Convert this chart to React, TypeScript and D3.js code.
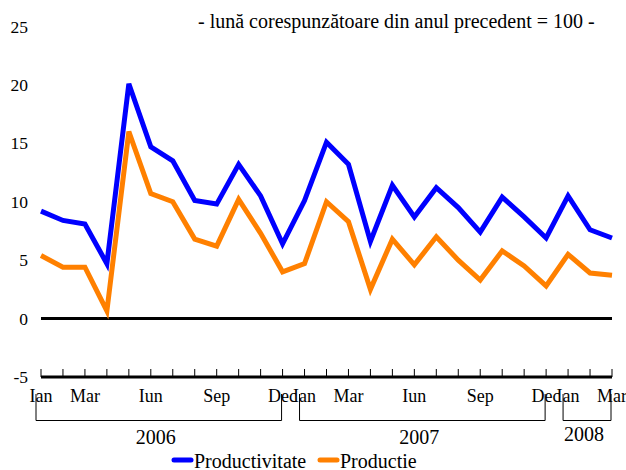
import React from "react";
import * as d3 from "d3";

const months = ["Ian", "Feb", "Mar", "Apr", "Mai", "Iun", "Iul", "Aug", "Sep", "Oct", "Noi", "Dec"];
const years = ["2006", "2007", "2008"];
const monthsPerYear = [12, 12, 3];
const labelledMonths = ["Ian", "Mar", "Iun", "Sep", "Dec"];

const productivitate = [
  9.2, 8.4, 8.1, 4.7, 20.1, 14.7, 13.5, 10.1, 9.8, 13.2, 10.5, 6.4,
  10.1, 15.1, 13.2, 6.6, 11.4, 8.7, 11.2, 9.5, 7.4, 10.4, 8.7, 6.9,
  10.5, 7.6, 6.9,
];
const productie = [
  5.4, 4.4, 4.4, 0.65, 16.0, 10.7, 10.0, 6.8, 6.2, 10.2, 7.3, 4.0,
  4.7, 10.0, 8.3, 2.5, 6.8, 4.6, 7.0, 5.0, 3.3, 5.8, 4.5, 2.8,
  5.5, 3.9, 3.7,
];
const yTicks = [25, 20, 15, 10, 5, 0, -5];

const series = [
  { name: "Productivitate", values: productivitate, color: "#0000ff" },
  { name: "Productie", values: productie, color: "#ff8000" },
];

const App = () => {
  const periods = years.flatMap((y, yi) =>
    d3.range(monthsPerYear[yi]).map(m => ({ year: y, month: months[m] }))
  );
  const x = d3.scaleLinear().domain([0, periods.length - 1]).range([41, 612]);
  const y = d3.scaleLinear().domain([-5, 25]).range([377, 26.5]);
  const line = d3.line<number>().x((_, i) => x(i)).y(d => y(d));

  let start = 0;
  const groups = years.map((yr, yi) => {
    const g = { year: yr, from: start, to: start + monthsPerYear[yi] - 1 };
    start += monthsPerYear[yi];
    return g;
  });

  const legendX = [172, 318];

  return (
    <svg width={626} height={470} fontFamily="Liberation Serif" style={{ position: "absolute", left: 0, top: 0 }}>
      <style>{`text { font-family: "Liberation Serif", "Times New Roman", serif; }`}</style>
      <rect width={626} height={470} fill="white" />
      <text x={198} y={28} fontSize={20}>- lună corespunzătoare din anul precedent = 100 -</text>

      {yTicks.map(t => (
        <text key={t} x={28} y={y(t)} dy="0.35em" textAnchor="end" fontSize={17.5}>{t}</text>
      ))}

      <line x1={x(0)} x2={x(periods.length - 1)} y1={y(0)} y2={y(0)} stroke="#000" strokeWidth={3} />
      <line x1={x(0)} x2={x(periods.length - 1)} y1={y(-5)} y2={y(-5)} stroke="#000" strokeWidth={3} />
      {periods.map((_, i) => (
        <line key={i} x1={x(i)} x2={x(i)} y1={y(-5)} y2={y(-5) - 8} stroke="#000" strokeWidth={1} />
      ))}

      {periods.map((p, i) =>
        labelledMonths.includes(p.month) ? (
          <text key={i} x={x(i)} y={402} textAnchor="middle" fontSize={18}>{p.month}</text>
        ) : null
      )}

      {groups.map(g => {
        const x1 = x(g.from) - 5;
        const x2 = x(g.to) - 1;
        return (
          <g key={g.year}>
            <path d={`M${x1},394V420.5H${x2}V394`} fill="none" stroke="#000" strokeWidth={1} />
            <text x={(x1 + x2) / 2 - 3} y={g.year === "2008" ? 441 : 444} textAnchor="middle" fontSize={20}>{g.year}</text>
          </g>
        );
      })}

      {series.map(s => (
        <path key={s.name} d={line(s.values) ?? ""} fill="none" stroke={s.color} strokeWidth={5} strokeLinejoin="miter" />
      ))}

      {series.map((s, i) => (
        <g key={s.name}>
          <line x1={legendX[i] + 2} x2={legendX[i] + 19} y1={460} y2={460} stroke={s.color} strokeWidth={5} strokeLinecap="round" />
          <text x={legendX[i] + 22} y={468} fontSize={20}>{s.name}</text>
        </g>
      ))}
    </svg>
  );
};

export default App;
